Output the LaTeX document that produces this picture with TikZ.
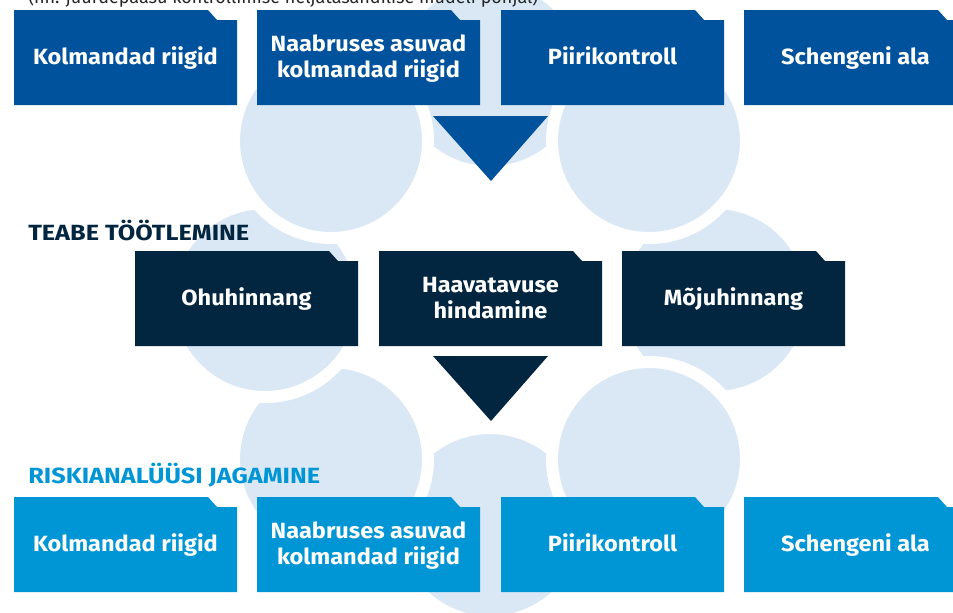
\documentclass[tikz,border=0pt]{standalone}
\usepackage{fontspec}
\setmainfont{Fira Sans}
\newfontfamily\boxfont{Fira Sans}[FakeStretch=1.07]
\newfontfamily\headfont{Fira Sans}[FakeStretch=1.15]
\definecolor{rkblue}{HTML}{00529C}
\definecolor{rknavy}{HTML}{02263F}
\definecolor{rkcyan}{HTML}{0096D6}
\definecolor{rkpale}{HTML}{DAE8F6}
\tikzstyle{bubble}=[fill=rkpale,draw=white,line width=9]
\tikzstyle{boxtext}=[inner sep=0,align=center,text=white,font=\boxfont\bfseries\fontsize{16.5}{19.5}\selectfont]
\tikzstyle{head}=[inner sep=0,anchor=base west,font=\headfont\bfseries\fontsize{16.5}{19.5}\selectfont]

% folder-like box: x, y (top left, px), colour, name, text
\newcommand{\tabbox}[5]{%
  \fill[#3] (#1,#2) -- ++(194,0) -- ++(9,10) -- ++(20,0) -- ++(0,85) -- ++(-223,0) -- cycle;
  \node[boxtext] (#4) at ({#1+111.5},{#2+49}) {\strut#5\strut};
}

\begin{document}
\begin{tikzpicture}[x=0.75pt,y=-0.75pt]
\useasboundingbox (0,0) rectangle (953,612);

% ring of pale circles
\draw[bubble] (490,525) circle (97);
\draw[bubble] (331,459) circle (97);
\draw[bubble] (715,300) circle (97);
\draw[bubble] (649,459) circle (97);
\draw[bubble] (265,300) circle (97);
\draw[bubble] (490,75) circle (97);
\draw[bubble] (331,141) circle (97);
\draw[bubble] (649,141) circle (97);

\node[anchor=base west,inner sep=0,font=\fontsize{13.5}{16}\selectfont,text=black!85] (model)
  at (28,3) {(nn. juurdepääsu kontrollimise neljatasandilise mudeli põhjal)};

% top row
\tabbox{14}{10}{rkblue}{kolm1}{Kolmandad riigid}
\tabbox{257}{10}{rkblue}{naaber1}{Naabruses asuvad\\kolmandad riigid}
\tabbox{501}{10}{rkblue}{piir1}{Piirikontroll}
\tabbox{744}{10}{rkblue}{schengen1}{Schengeni ala}
\fill[rkblue] (433,116) -- (548,116) -- (491,181) -- cycle;

% processing
\node[head,text=rknavy] (teabe) at (28,240) {TEABE TÖÖTLEMINE};
\tabbox{135}{251}{rknavy}{oht}{Ohuhinnang}
\tabbox{379}{251}{rknavy}{haavatavus}{Haavatavuse\\hindamine}
\tabbox{622}{251}{rknavy}{moju}{Mõjuhinnang}
\fill[rknavy] (433,356) -- (548,356) -- (491,421) -- cycle;

% sharing
\node[head,text=rkcyan] (jagamine) at (28,483) {RISKIANALÜÜSI JAGAMINE};
\tabbox{14}{497}{rkcyan}{kolm2}{Kolmandad riigid}
\tabbox{257}{497}{rkcyan}{naaber2}{Naabruses asuvad\\kolmandad riigid}
\tabbox{501}{497}{rkcyan}{piir2}{Piirikontroll}
\tabbox{744}{497}{rkcyan}{schengen2}{Schengeni ala}
\end{tikzpicture}
\end{document}
